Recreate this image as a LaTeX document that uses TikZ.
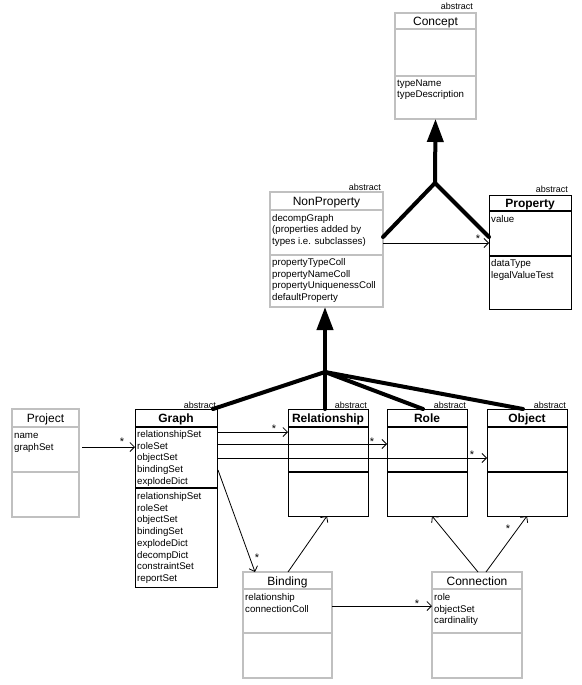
\documentclass[tikz,border=0pt]{standalone}
\usepackage{fontspec}
\setmainfont{Liberation Sans}
\usetikzlibrary{arrows.meta,calc}
\definecolor{boxgray}{HTML}{C0C0C0}
\newcommand\attrsize{\fontsize{9.7}{11.7}\selectfont}
\newcommand\titlesize{\fontsize{12}{14}\selectfont}
\newcommand\abssize{\fontsize{9}{10}\selectfont}
% #1 name, #2 kind (gray/black), #3 left, #4 top, #5 right, #6 div1, #7 div2, #8 bottom, #9 title
\newcommand\umlclass[9]{%
  \node[#2box, minimum width={(#5-#3)*1pt}, minimum height={(#8-#4)*1pt}] (#1) at (#3,#4) {};
  \draw[#2div] (#3,#6) -- (#5,#6);
  \draw[#2div] (#3,#7) -- (#5,#7);
  \node[#2title] (#1-title) at ({(#3+#5)/2},{(#4+#6)/2+4.5}) {#9};
}
% #1 prefix, #2 x, #3 first baseline, #4 list
\newcommand\umlattrs[4]{%
  \foreach \attrtext [count=\i] in {#4} {%
    \node[attr] (#1-\i) at (#2,{#3+(\i-1)*11.7}) {\attrtext};
  }%
}
\newcommand\umlabstract[3]{\node[abslabel] (#1-abs) at (#2,#3) {abstract};}
\begin{document}
\begin{tikzpicture}[x=1pt,y=-1pt,
  graybox/.style={draw=boxgray, line width=1.2pt, fill=white, inner sep=0pt, outer sep=0pt, anchor=north west},
  blackbox/.style={draw=black, line width=1pt, fill=white, inner sep=0pt, outer sep=0pt, anchor=north west},
  graydiv/.style={draw=boxgray, line width=1.6pt},
  blackdiv/.style={draw=black, line width=2.2pt},
  graytitle/.style={anchor=base, inner sep=0pt, font=\titlesize},
  blacktitle/.style={anchor=base, inner sep=0pt, font=\titlesize\bfseries},
  attr/.style={anchor=base west, inner sep=0pt, font=\attrsize},
  abslabel/.style={anchor=base east, inner sep=0pt, font=\abssize},
  starlbl/.style={anchor=base, inner sep=0pt, font=\fontsize{11}{12}\selectfont},
  assoc/.style={draw=black, line width=0.8pt, -{Straight Barb[length=4.5pt,width=9pt,line width=0.8pt]}},
  gen/.style={draw=black, line width=4pt, line cap=round},
  genhead/.style={gen, -{Triangle[length=23pt,width=16pt]}}
]
\useasboundingbox (0,0) rectangle (581,685);
\fill[white] (0,0) rectangle (581,685);

% ---------- classes ----------
\umlclass{concept}{gray}{395}{13}{476}{29}{76}{119}{Concept}
\umlabstract{concept}{473}{10}
\umlattrs{concept-op}{397}{86}{typeName,typeDescription}

\umlclass{nonprop}{gray}{270}{192}{383}{210}{255}{307}{NonProperty}
\umlabstract{nonprop}{381}{190}
\umlattrs{nonprop-at}{272}{221}{decompGraph,{(properties added by},{types i.e. subclasses)}}
\umlattrs{nonprop-op}{272}{265.5}{propertyTypeColl,propertyNameColl,propertyUniquenessColl,defaultProperty}

\umlclass{property}{black}{489}{195}{571}{211}{256}{309}{Property}
\umlabstract{property}{568}{192}
\umlattrs{property-at}{491}{222}{value}
\umlattrs{property-op}{491}{266.5}{dataType,legalValueTest}

\umlclass{project}{gray}{12}{409}{79}{427}{472}{517}{Project}
\umlattrs{project-at}{14}{438.5}{name,graphSet}

\umlclass{graph}{black}{135}{409}{217}{427}{488}{587}{Graph}
\umlabstract{graph}{216}{408}
\umlattrs{graph-at}{137}{437.5}{relationshipSet,roleSet,objectSet,bindingSet,explodeDict}
\umlattrs{graph-op}{137}{499.5}{relationshipSet,roleSet,objectSet,bindingSet,explodeDict,decompDict,constraintSet,reportSet}

\umlclass{relationship}{black}{288}{409}{368}{427}{472}{516}{Relationship}
\umlabstract{relationship}{367}{408}
\umlclass{role}{black}{387}{409}{467}{427}{472}{516}{Role}
\umlabstract{role}{466}{408}
\umlclass{object}{black}{487}{409}{567}{427}{472}{516}{Object}
\umlabstract{object}{566}{408}

\umlclass{binding}{gray}{243}{572}{332}{589}{633}{678}{Binding}
\umlattrs{binding-at}{245}{600.5}{relationship,connectionColl}

\umlclass{connection}{gray}{432}{572}{522}{589}{633}{678}{Connection}
\umlattrs{connection-at}{434}{600.5}{role,objectSet,cardinality}

% ---------- generalizations ----------
\coordinate (g1) at (435,183);
\draw[genhead] (g1) -- (concept.south);
\draw[gen] (g1) -- ($(nonprop.north east)+(0,45)$);
\draw[gen] (g1) -- ($(property.north west)+(0,42)$);

\coordinate (g2) at (325,372);
\draw[genhead] (g2) -- ($(nonprop.south)+(-1.5,0)$);
\draw[gen] (g2) -- ($(graph.north east)+(-4,0)$);
\draw[gen] (g2) -- ($(relationship.north west)+(37,0)$);
\draw[gen] (g2) -- ($(role.north west)+(36,0)$);
\draw[gen] (g2) -- ($(object.north west)+(36,0)$);

% ---------- associations ----------
\draw[assoc] ($(nonprop.north east)+(0,51)$) -- ($(property.north west)+(0,48)$);
\node[starlbl] (st-prop) at (478,242) {*};

\draw[assoc] ($(project.north east)+(3,38)$) -- ($(graph.north west)+(0,38)$);
\node[starlbl] (st-proj) at (122,445) {*};

\draw[assoc] ($(graph.north east)+(0,23)$) -- ($(relationship.north west)+(0,23)$);
\node[starlbl] (st-rel) at (274,432) {*};
\draw[assoc] ($(graph.north east)+(0,35)$) -- ($(role.north west)+(0,35)$);
\node[starlbl] (st-role) at (372,445) {*};
\draw[assoc] ($(graph.north east)+(0,49)$) -- ($(object.north west)+(0,49)$);
\node[starlbl] (st-obj) at (472,458) {*};

\draw[assoc] ($(graph.north east)+(1,61)$) -- ($(binding.north west)+(12,0)$);
\node[starlbl] (st-bind) at (257,561) {*};

\draw[assoc] ($(binding.north east)+(0,34)$) -- ($(connection.north west)+(0,34)$);
\node[starlbl] (st-conn) at (417,607) {*};

\draw[assoc] ($(binding.north west)+(45,0)$) -- ($(relationship.south west)+(39,0)$);
\draw[assoc] ($(connection.north west)+(46,0)$) -- ($(role.south west)+(45,0)$);
\draw[assoc] ($(connection.north west)+(54,0)$) -- ($(object.south west)+(40,0)$);
\node[starlbl] (st-co) at (508,532) {*};
\end{tikzpicture}
\end{document}
